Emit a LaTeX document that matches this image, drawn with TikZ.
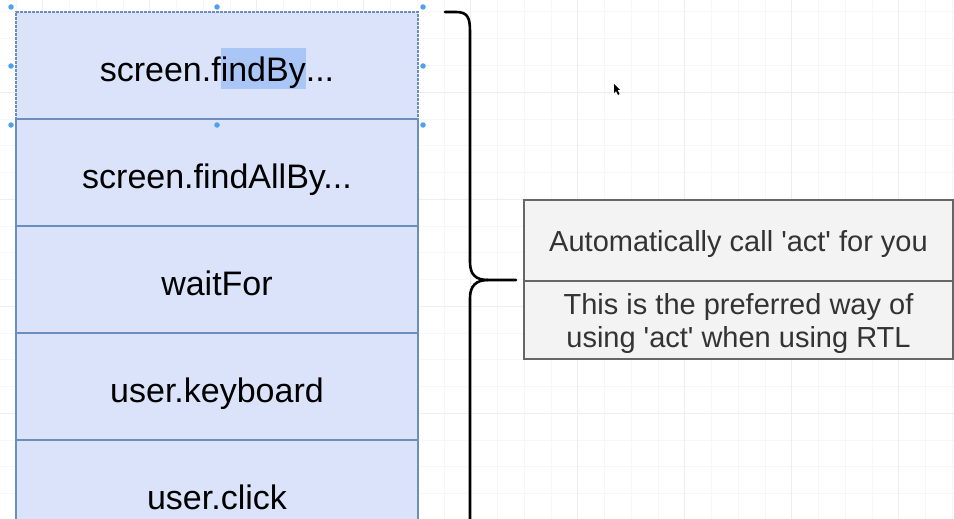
\documentclass[tikz,border=0pt]{standalone}
\usepackage{fontspec}
\setmainfont{Liberation Sans}
\usetikzlibrary{positioning}
\definecolor{boxfill}{HTML}{DAE3F9}
\definecolor{boxline}{HTML}{6C8EBF}
\definecolor{notefill}{HTML}{F3F3F3}
\definecolor{noteline}{HTML}{666666}
\definecolor{notetext}{HTML}{333333}
\definecolor{gridminor}{HTML}{F7F7F7}
\definecolor{gridmajor}{HTML}{EEEEEE}
\definecolor{handle}{HTML}{4EA1F0}
\definecolor{marked}{HTML}{AAC6F7}
\tikzset{
  callbox/.style={draw=boxline, fill=boxfill, line width=2pt, minimum width=402pt, minimum height=107pt,
    inner sep=0pt, outer sep=0pt, text height=32pt, text depth=0pt, font=\fontsize{34}{40}\selectfont},
  notebox/.style={draw=noteline, fill=notefill, line width=2pt, minimum width=429pt, inner sep=0pt,
    outer sep=0pt, text=notetext, align=center, font=\fontsize{29}{33}\selectfont},
  handledot/.style={circle, fill=handle, inner sep=0pt, minimum size=5.5pt}
}
\begin{document}
\begin{tikzpicture}[x=1pt,y=-1pt]
\useasboundingbox (0,0) rectangle (954,519);
\clip (0,0) rectangle (954,519);
\fill[white] (0,0) rectangle (954,519);
\foreach \k in {-1,...,35} \draw[gridminor, line width=1pt] (16+26.75*\k,0) -- (16+26.75*\k,519);
\foreach \k in {-1,...,19} \draw[gridminor, line width=1pt] (0,12+26.75*\k) -- (954,12+26.75*\k);
\foreach \k in {0,...,8} \draw[gridmajor, line width=1pt] (42.75+107*\k,0) -- (42.75+107*\k,519);
\foreach \k in {-1,...,4} \draw[gridmajor, line width=1pt] (0,92.25+107*\k) -- (954,92.25+107*\k);

\node[callbox, dash pattern=on 3pt off 1pt] (findby) at (217,65.5)
  {screen.f{\setlength\fboxsep{0pt}\colorbox{marked}{\rule[-6pt]{0pt}{40pt}indBy}}...};
\node[callbox, below=0pt of findby] (findallby) {screen.findAllBy...};
\node[callbox, below=0pt of findallby] (waitfor) {waitFor};
\node[callbox, below=0pt of waitfor] (keyboard) {user.keyboard};
\node[callbox, below=0pt of keyboard] (click) {user.click};

\foreach \p in {(11,7),(217,7),(423,7),(11,66),(423,66),(11,125),(217,125),(423,125)}
  \node[handledot] at \p {};

\node[notebox, minimum height=81pt, text height=21pt, text depth=0pt] (autoact) at (738.5,240.5)
  {Automatically call \textquotesingle act\textquotesingle{} for you};
\node[notebox, minimum height=78pt, text height=54pt, text depth=0pt, below=0pt of autoact] (preferred)
  {This is the preferred way of\\using \textquotesingle act\textquotesingle{} when using RTL};

\coordinate (bracetop) at (445,12);
\coordinate (bracetip) at (516,280);
\coordinate (bracebot) at (470,548);
\draw[line width=2.6pt, line cap=round] (bracetop) -- (456,12) .. controls (468,12) and (470,18) .. (470,32)
  -- (470,262) .. controls (470,275) and (476,280) .. (488,280) -- (bracetip);
\draw[line width=2.6pt] (488,280) .. controls (476,280) and (470,286) .. (470,298) -- (bracebot);

\fill[black] (614,84) -- (614,93) -- (616,91) -- (618,95) -- (619.5,94) -- (617.5,90) -- (620,90) -- cycle;
\end{tikzpicture}
\end{document}
